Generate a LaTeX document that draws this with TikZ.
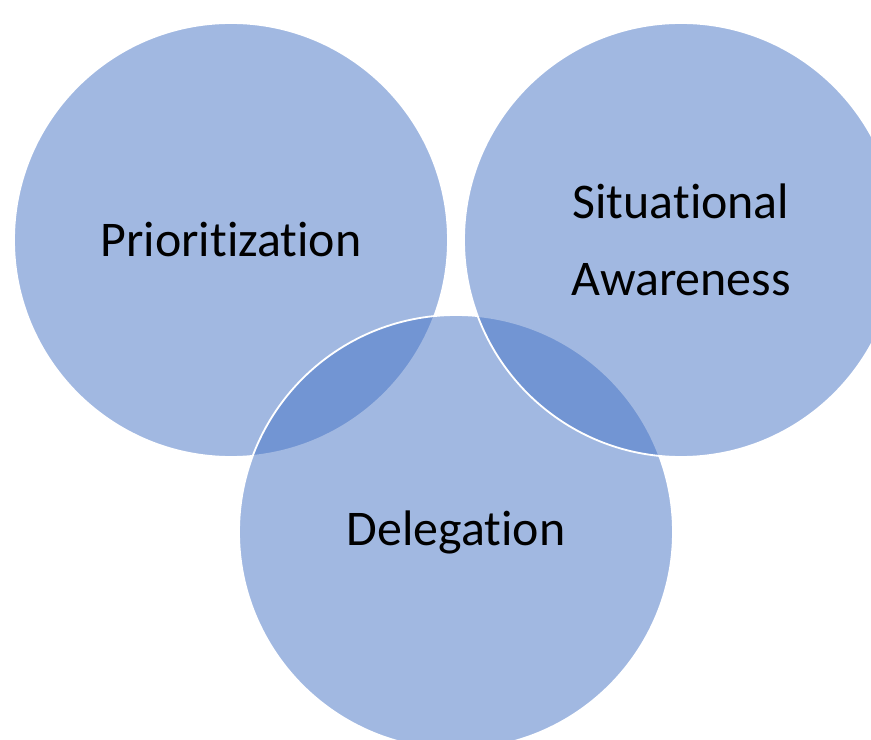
\documentclass[tikz,border=0pt]{standalone}
\usepackage{fontspec}
\setmainfont{Carlito}[Ligatures={NoCommon}]
\usepackage{tikz}
\usetikzlibrary{positioning}

\definecolor{vennblue}{HTML}{4472C4}

\begin{document}
\begin{tikzpicture}[x=0.025cm, y=-0.025cm,
    venn/.style={circle, minimum size=434*0.025cm, inner sep=0pt,
      fill=vennblue, fill opacity=0.5, text opacity=1,
      draw=white, line width=1.3pt, font=\fontsize{35.5}{55}\selectfont, align=center}]
    \useasboundingbox (0,0) rectangle (871,740);

    % three circles, drawn left, bottom, right
    \node[venn] (prio) at (231,240) {Prioritization};
    \node[venn] (dele) at (456,532) {Delegation};
    \node[venn] (situ) at (681,240) {Situational\\Awareness};
\end{tikzpicture}
\end{document}
